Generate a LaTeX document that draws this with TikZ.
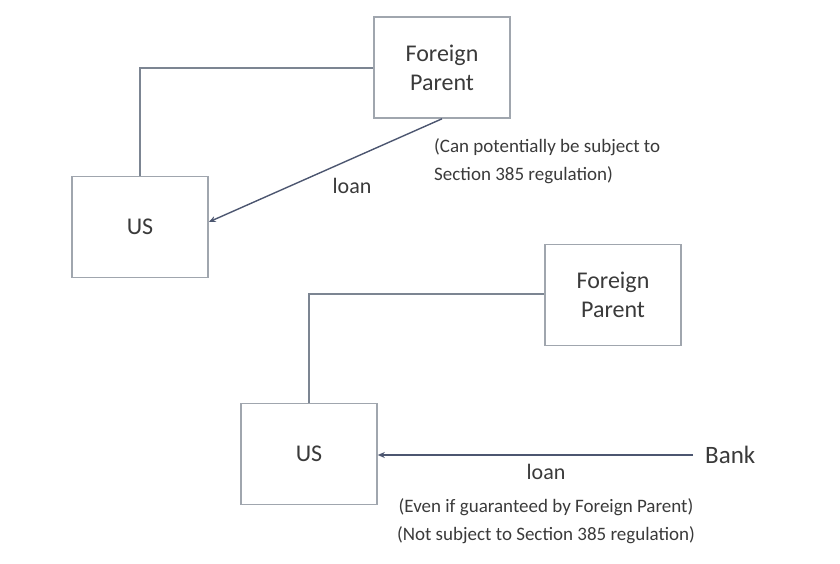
\documentclass[tikz,border=0pt]{standalone}
\usepackage{fontspec}
\setmainfont{Carlito}
\usetikzlibrary{arrows.meta}

\definecolor{boxline}{HTML}{A0A6AE}
\definecolor{linkline}{HTML}{7C8592}
\definecolor{loanline}{HTML}{4C5670}
\definecolor{txt}{HTML}{3A3A3A}

\begin{document}
\begin{tikzpicture}[x=1pt,y=-1pt,>={Stealth[length=7pt,width=6pt]},
    entity/.style={draw=boxline,line width=1.6pt,minimum width=136pt,minimum height=101pt,inner sep=0pt,align=center,text=txt,font=\fontsize{24}{29}\selectfont},
    link/.style={draw=linkline,line width=1.8pt},
    loan/.style={draw=loanline,line width=1.4pt,->},
    note/.style={text=txt,font=\fontsize{19}{28}\selectfont,align=left,inner sep=0pt}]

        \useasboundingbox (0,0) rectangle (840,564);

        % first case: loan from the parent
        \node[entity] (fp1) at (442,67.5) {Foreign\\Parent};
        \node[entity] (us1) at (140,227) {US};
        \coordinate (c1) at (140,68);

        \draw[link] (fp1.west |- c1) -- (c1) -- (us1.north);
        \draw[loan] (fp1.south) -- (us1.east |- 0,222);

        \node[text=txt,font=\fontsize{22}{24}\selectfont] (l1) at (352,186) {loan};
        \node[note,anchor=west] (n1) at (434,161) {(Can potentially be subject to\\Section 385 regulation)};

        % second case: loan from a bank
        \node[entity] (fp2) at (613,295) {Foreign\\Parent};
        \node[entity] (us2) at (309,454) {US};
        \coordinate (c2) at (309,294);
        \node[text=txt,font=\fontsize{25}{29}\selectfont,anchor=west,inner sep=0pt] (bank) at (705,455) {Bank};

        \draw[link] (fp2.west |- c2) -- (c2) -- (us2.north);
        \draw[loan] (bank.west) ++(-12,0) coordinate (b2) (b2) -- (us2.east |- b2);

        \node[text=txt,font=\fontsize{22}{24}\selectfont] (l2) at (546,472) {loan};
        \node[note,align=center] (n2) at (546,521) {(Even if guaranteed by Foreign Parent)\\(Not subject to Section 385 regulation)};

\end{tikzpicture}
\end{document}
